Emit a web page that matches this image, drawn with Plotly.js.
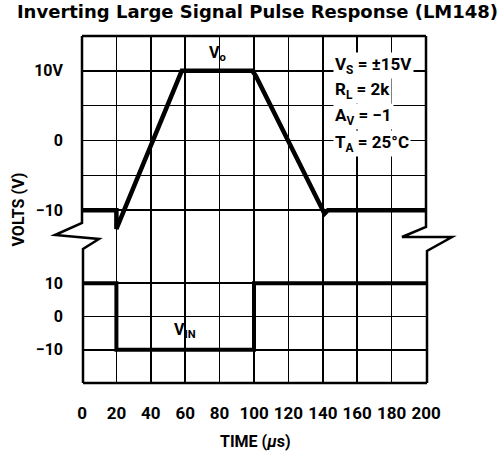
<!DOCTYPE html>
<html><head><meta charset="utf-8">
<script src="https://cdn.plot.ly/plotly-3.0.1.min.js"></script>
<style>html,body{margin:0;padding:0;background:#fff}#chart{width:504px;height:454px}</style>
</head><body><div id="chart"></div>
<script>
// ---- data ----
const timeVo  = [0, 20, 20, 58, 99, 101, 141, 143, 200];
const voltsVo = [-10, -10, -12.7, 10, 10, 9.3, -10.5, -10, -10];
const timeVin  = [0, 20, 20, 100, 100, 200];
const voltsVin = [10, 10, -10, -10, 10, 10];
const xTickVals = [0, 20, 40, 60, 80, 100, 120, 140, 160, 180, 200];
const xTickText = ['0', '20', '40', '60', '80', '100', '120', '140', '160', '180', '200'];
const upperTickVals = [-10, 0, 10];
const upperTickText = ['\u221210', '0', '10V'];
const upperGridVals = [-15, -5, 5];
const lowerTickVals = [-10, 0, 10];
const lowerTickText = ['\u221210', '0', '10'];
const conditions = ['V<sub>S</sub> = \u00b115V', 'R<sub>L</sub> = 2k', 'A<sub>V</sub> = \u22121', 'T<sub>A</sub> = 25\u00b0C'];
const conditionY = [10.8, 7.2, 3.5, -0.4];

// ---- style ----
const CF = 'Roboto, "Liberation Sans", sans-serif';
const tf = (s) => ({family: CF, size: s, color: '#000', weight: 'bold'});
const PX = (x) => (x - 82) / 344;
const PY = (y) => (383 - y) / 347;
const pathOf = (pts) => 'M' + pts.map(p => PX(p[0]).toFixed(4) + ',' + PY(p[1]).toFixed(4)).join(' L');

const traces = [
  {x: timeVo, y: voltsVo, xaxis: 'x', yaxis: 'y', mode: 'lines',
   line: {color: '#000', width: 4.5}, hoverinfo: 'skip', showlegend: false},
  {x: timeVin, y: voltsVin, xaxis: 'x', yaxis: 'y2', mode: 'lines',
   line: {color: '#000', width: 4}, hoverinfo: 'skip', showlegend: false}
];

const split = PY(245);
const annotations = [
  {text: 'V<sub>o</sub>', x: 78.5, y: 12.5, xref: 'x', yref: 'y', showarrow: false, font: tf(16)},
  {text: 'V<sub>IN</sub>', x: 60, y: -4.3, xref: 'x', yref: 'y2', showarrow: false, font: tf(16)},
  {text: 'TIME (<i>\u03bc</i>s)', x: PX(255), y: PY(441), xref: 'paper', yref: 'paper', showarrow: false,
   font: tf(16), xanchor: 'center', yanchor: 'middle'},
  {text: 'VOLTS (V)', x: PX(17.5), y: PY(210), xref: 'paper', yref: 'paper', showarrow: false,
   font: tf(16), textangle: -90, xanchor: 'center', yanchor: 'middle'}
];
conditions.forEach((t, i) => annotations.push({
  text: t, x: 146, y: conditionY[i], xref: 'x', yref: 'y', xanchor: 'left', yanchor: 'middle',
  showarrow: false, font: tf(17), bgcolor: '#fff'
}));

const shapes = [
  {type: 'path', xref: 'paper', yref: 'paper', line: {color: '#000', width: 2.5},
   path: pathOf([[82,36],[82,223],[55,235],[99,239],[83,249],[83,383]])},
  {type: 'path', xref: 'paper', yref: 'paper', line: {color: '#000', width: 2.5},
   path: pathOf([[426,36],[426,227],[402,237],[452,237],[427,251],[427,383]])},
  {type: 'line', xref: 'paper', yref: 'paper', x0: PX(82), x1: PX(426), y0: PY(36), y1: PY(36), line: {color: '#000', width: 2.5}},
  {type: 'line', xref: 'paper', yref: 'paper', x0: PX(83), x1: PX(427), y0: PY(383), y1: PY(383), line: {color: '#000', width: 2.5}}
];

const gridStyle = {showgrid: true, gridcolor: '#000', gridwidth: 1.5};
const layout = {
  width: 504, height: 454,
  margin: {l: 82, r: 78, t: 36, b: 71},
  paper_bgcolor: '#fff', plot_bgcolor: '#fff',
  showlegend: false,
  title: {text: '<b>Inverting Large Signal Pulse Response (LM148)</b>',
          font: {family: '"DejaVu Sans", sans-serif', size: 18, color: '#000'},
          xref: 'container', x: 257.5 / 504, xanchor: 'center',
          yref: 'container', y: 1 - 12 / 454, yanchor: 'middle'},
  xaxis: Object.assign({anchor: 'y2', range: [0, 200], tickmode: 'array', tickvals: xTickVals, ticktext: xTickText,
          tickangle: 0, ticks: '', ticklabelstandoff: 18, zeroline: false, showline: false, tickfont: tf(17), fixedrange: true}, gridStyle),
  yaxis: Object.assign({domain: [split, 1], range: [-15, 15], tickmode: 'array', tickvals: upperTickVals, ticktext: upperTickText,
          minor: {tickmode: 'array', tickvals: upperGridVals, showgrid: true, gridcolor: '#000', gridwidth: 1.5, ticks: ''},
          ticks: '', ticklabelstandoff: 18, zeroline: false, showline: false, tickfont: tf(16), fixedrange: true}, gridStyle),
  yaxis2: Object.assign({domain: [0, split], range: [-20, 21.5], tickmode: 'array', tickvals: lowerTickVals, ticktext: lowerTickText,
          ticks: '', ticklabelstandoff: 18, zeroline: false, showline: false, tickfont: tf(16), fixedrange: true}, gridStyle),
  annotations: annotations,
  shapes: shapes
};

Plotly.newPlot('chart', traces, layout, {staticPlot: true, displayModeBar: false});
</script></body></html>
